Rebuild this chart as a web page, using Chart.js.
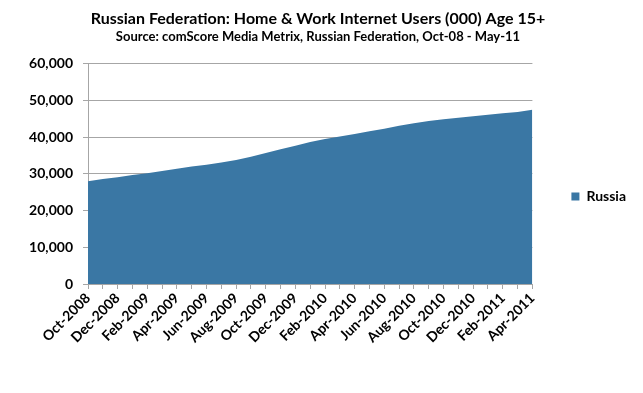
<!DOCTYPE html>
<html>
<head>
<meta charset="utf-8">
<script src="https://cdn.jsdelivr.net/npm/chart.js@4/dist/chart.umd.min.js"></script>
<style>
  html, body { margin: 0; padding: 0; background: #fff; }
  #wrap { width: 643px; height: 393px; }
</style>
</head>
<body>
<div id="wrap"><canvas id="grafico" width="643" height="393"></canvas></div>
<script>
const meses = [
    'Oct-2008', 'Nov-2008', 'Dec-2008', 'Jan-2009', 'Feb-2009', 'Mar-2009', 'Apr-2009', 'May-2009',
    'Jun-2009', 'Jul-2009', 'Aug-2009', 'Sep-2009', 'Oct-2009', 'Nov-2009', 'Dec-2009', 'Jan-2010',
    'Feb-2010', 'Mar-2010', 'Apr-2010', 'May-2010', 'Jun-2010', 'Jul-2010', 'Aug-2010', 'Sep-2010',
    'Oct-2010', 'Nov-2010', 'Dec-2010', 'Jan-2011', 'Feb-2011', 'Mar-2011', 'Apr-2011'
];

const usuariosRussia = [
    28000, 28600, 29100, 29700, 30200, 30800, 31400, 32000,
    32500, 33100, 33800, 34700, 35700, 36700, 37700, 38700,
    39500, 40200, 40900, 41600, 42300, 43100, 43800, 44400,
    44900, 45300, 45700, 46100, 46500, 46900, 47500
];

const ticksY = [0, 10000, 20000, 30000, 40000, 50000, 60000];

const fonte = 'Lato, "Open Sans", sans-serif';
const azul = '#3a77a4';
const cinza = '#a6a6a6';

new Chart(document.getElementById('grafico'), {
    type: 'line',
    data: {
        labels: meses,
        datasets: [{
            label: 'Russia',
            data: usuariosRussia,
            backgroundColor: azul,
            borderColor: azul,
            borderWidth: 0,
            pointRadius: 0,
            fill: 'origin',
            tension: 0
        }]
    },
    options: {
        responsive: false,
        animation: false,
        devicePixelRatio: 1,
        layout: { padding: { left: 0, right: 7, top: 0, bottom: 0 } },
        plugins: {
            title: {
                display: true,
                text: 'Russian Federation: Home & Work Internet Users (000) Age 15+',
                color: '#000',
                font: { family: fonte, size: 16, weight: 'bold' },
                padding: { top: 9, bottom: 1 }
            },
            subtitle: {
                display: true,
                text: 'Source: comScore Media Metrix, Russian Federation, Oct-08 - May-11',
                color: '#000',
                font: { family: fonte, size: 13, weight: 'bold' },
                padding: { top: 0, bottom: 19 }
            },
            legend: {
                position: 'right',
                labels: {
                    color: '#000',
                    boxWidth: 8,
                    boxHeight: 8,
                    padding: 39,
                    font: { family: fonte, size: 14, weight: 'bold' }
                }
            },
            tooltip: { enabled: false }
        },
        scales: {
            x: {
                offset: false,
                afterFit: s => { s.height = 109; },
                grid: { drawOnChartArea: false, color: cinza, tickLength: 5 },
                border: { color: cinza },
                ticks: {
                    autoSkip: false,
                    maxRotation: 45,
                    minRotation: 45,
                    padding: 1,
                    color: '#000',
                    font: { family: fonte, size: 14, weight: 'bold' },
                    callback: (v, i) => i % 2 === 0 ? meses[i] : ''
                }
            },
            y: {
                min: ticksY[0],
                max: ticksY[ticksY.length - 1],
                afterFit: s => { s.width = 88; },
                afterBuildTicks: s => { s.ticks = ticksY.map(v => ({ value: v })); },
                grid: { color: cinza, tickLength: 5 },
                border: { color: cinza },
                ticks: {
                    padding: 10,
                    color: '#000',
                    font: { family: fonte, size: 14, weight: 'bold' },
                    callback: v => v.toLocaleString('en-US')
                }
            }
        }
    }
});
</script>
</body>
</html>
